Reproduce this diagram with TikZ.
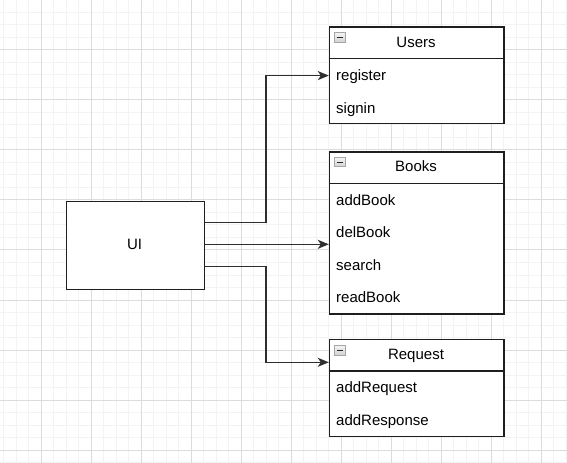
\documentclass[tikz,border=0pt]{standalone}
\usepackage{fontspec}
\setmainfont{Liberation Sans}
\usetikzlibrary{arrows.meta,calc}
\definecolor{gminor}{HTML}{F3F3F3}
\definecolor{gmajor}{HTML}{DCDCDC}
\definecolor{edgec}{HTML}{1E1E1E}
\definecolor{linec}{HTML}{2E2E2E}
\begin{document}
\begin{tikzpicture}[x=1bp,y=-1bp,
  box/.style={draw=edgec, line width=1.4bp, fill=white, inner sep=0pt, anchor=north west},
  txt/.style={font=\fontsize{15bp}{18bp}\selectfont, inner sep=0pt, text height=10.7bp, text depth=0pt},
  item/.style={txt, anchor=west},
  sepline/.style={draw=edgec, line width=1.4bp},
  link/.style={draw=linec, line width=1.4bp, -{Stealth[length=11bp,width=9bp,inset=3bp]}},
  icon/.style={draw=gray!70, line width=0.8bp, top color=gray!8, bottom color=gray!35},
]
\useasboundingbox (0,0) rectangle (567,463);
\fill[white] (0,0) rectangle (567,463);
% grid
\foreach \x in {3.5,16,...,567} \draw[gminor, line width=1bp] (\x,0) -- (\x,463);
\foreach \y in {12.5,25,...,463} \draw[gminor, line width=1bp] (0,\y) -- (567,\y);
\foreach \x in {41,91,...,567} \draw[gmajor, line width=1bp] (\x,0) -- (\x,463);
\foreach \y in {0,50,...,463} \draw[gmajor, line width=1bp] (0,\y) -- (567,\y);

% UI box
\node[box, minimum width=137.7bp, minimum height=87.5bp] (ui) at (66,201) {};
\node[txt] (uiT) at (134.5,244.3) {UI};

% Users
\node[box, minimum width=174.5bp, minimum height=96.2bp] (users) at (328.8,26.5) {};
\draw[sepline] (users.west |- 0,58.3) -- (users.east |- 0,58.3);
\node[txt] (usersT) at (416,42) {Users};
\node[item] (reg) at (336,75.6) {register};
\node[item] (sig) at (336,108) {signin};

% Books
\node[box, minimum width=174.5bp, minimum height=161.8bp] (books) at (328.8,151.5) {};
\draw[sepline] (books.west |- 0,183.3) -- (books.east |- 0,183.3);
\node[txt] (booksT) at (416,166.3) {Books};
\node[item] (addb) at (336,200.3) {addBook};
\node[item] (delb) at (336,232) {delBook};
\node[item] (srch) at (336,265.3) {search};
\node[item] (readb) at (336,297) {readBook};

% Request
\node[box, minimum width=174.5bp, minimum height=97bp] (req) at (328.8,338.5) {};
\draw[sepline] (req.west |- 0,371) -- (req.east |- 0,371);
\node[txt] (reqT) at (416,354) {Request};
\node[item] (addr) at (336,387.3) {addRequest};
\node[item] (addrs) at (336,419.7) {addResponse};

% collapse icons
\foreach \t in {32.5,157.3,345.3} {
  \draw[icon] (334,\t) rectangle (345,\t+9.6);
  \draw[black!85, line width=1.1bp] (336.5,\t+4.8) -- (342.5,\t+4.8);
}

% connectors
\coordinate (o1) at (ui.east |- 0,222.7);
\coordinate (o2) at (ui.east |- 0,244.3);
\coordinate (o3) at (ui.east |- 0,266.7);
\coordinate (t3) at (req.west |- 0,362.3);
\draw[link] (o1) -- (266,222.7) |- (users.west |- reg.west);
\draw[link] (o2) -- (books.west |- o2);
\draw[link] (o3) -- (266,266.7) |- (t3);
\end{tikzpicture}
\end{document}
